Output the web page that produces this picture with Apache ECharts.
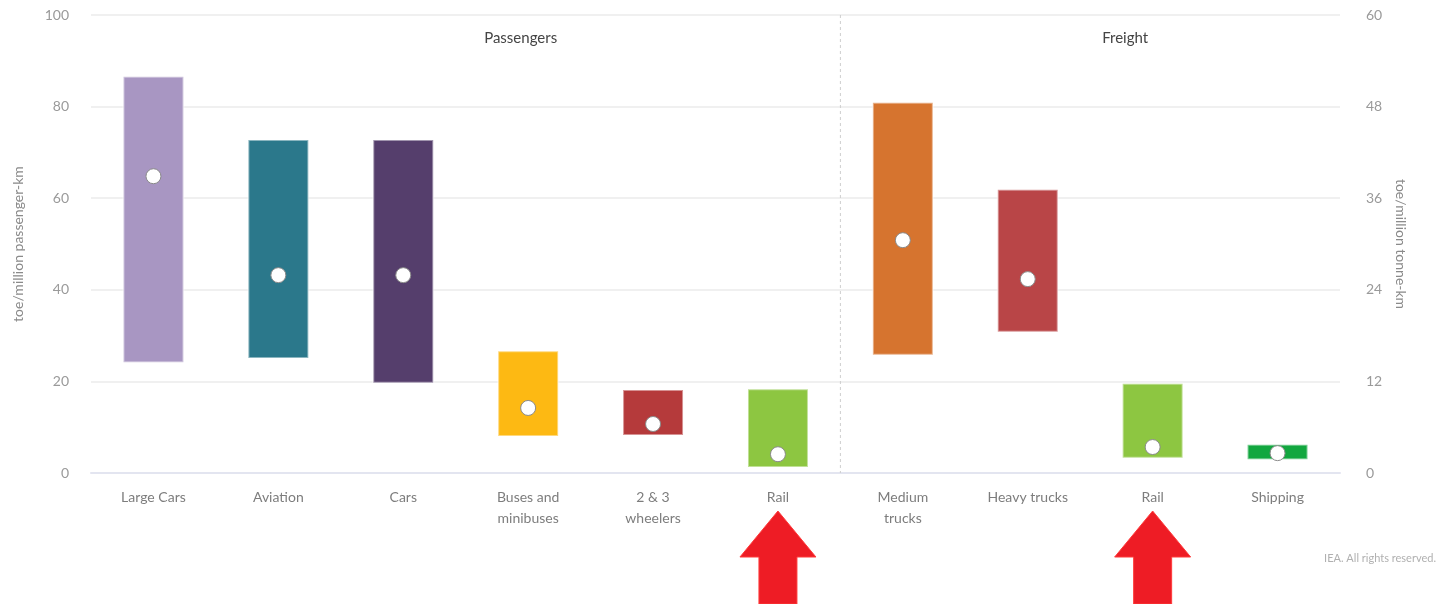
<!DOCTYPE html>
<html><head><meta charset="utf-8">
<script src="https://cdn.jsdelivr.net/npm/echarts@6/dist/echarts.min.js"></script>
<style>html,body{margin:0;padding:0;background:#fff}#c{width:1444px;height:604px}</style>
</head><body><div id="c"></div>
<script>
const categories = ['Large Cars','Aviation','Cars','Buses and\nminibuses','2 & 3\nwheelers','Rail','Medium\ntrucks','Heavy trucks','Rail','Shipping'];
const passengerLow  = [24.2, 25.1, 19.7, 8.1, 8.3, 1.3];
const passengerHigh = [86.5, 72.7, 72.7, 26.6, 18.1, 18.3];
const passengerMid  = [64.8, 43.2, 43.2, 14.2, 10.7, 4.1];
const freightLow  = [15.5, 18.5, 2.0, 1.8];
const freightHigh = [48.5, 37.1, 11.7, 3.7];
const freightMid  = [30.5, 25.4, 3.4, 2.6];
const leftTicks = {min: 0, max: 100, interval: 20};
const rightTicks = {min: 0, max: 60, interval: 12};
const colors = ['#a896c2','#2b788b','#553e6c','#fdb913','#b53a3b','#8dc641','#d6742f','#b94547','#8dc641','#12a73f'];

const nP = passengerLow.length;
const passData = passengerLow.map((v,i)=>[i, v, passengerHigh[i]]);
const freightData = freightLow.map((v,i)=>[i+nP, v, freightHigh[i]]);
const passDots = passengerMid.map((v,i)=>[i, v]);
const freightDots = freightMid.map((v,i)=>[i+nP, v]);

function renderRange(params, api){
  const x = api.value(0);
  const top = api.coord([x, api.value(2)]);
  const bot = api.coord([x, api.value(1)]);
  const w = api.size([1,0])[0]*0.48;
  return {type:'rect', shape:{x: top[0]-w/2, y: top[1], width: w, height: bot[1]-top[1]},
    style:{fill: colors[x], stroke:'rgba(255,255,255,0.45)', lineWidth:2}};
}

const chart = echarts.init(document.getElementById('c'));
const font = 'Lato, "Open Sans", sans-serif';
chart.setOption({
  animation:false,
  textStyle:{fontFamily:font},
  grid:{left:91, right:104, top:15, bottom:131},
  xAxis:{type:'category', data:categories, boundaryGap:true,
    axisLine:{lineStyle:{color:'#e3e5f0', width:2}}, axisTick:{show:false},
    axisLabel:{color:'#7d7d7d', fontSize:14, margin:14, lineHeight:21, fontFamily:font, interval:0},
    splitLine:{show:false}},
  yAxis:[
    {type:'value', min:leftTicks.min, max:leftTicks.max, interval:leftTicks.interval,
     name:'toe/million passenger-km', nameLocation:'middle', nameGap:66,
     nameTextStyle:{color:'#8a8a8a', fontSize:14, fontFamily:font},
     axisLine:{show:false}, axisTick:{show:false},
     axisLabel:{color:'#9a9a9a', fontSize:14, margin:22, fontFamily:font},
     splitLine:{lineStyle:{color:'#ebebeb', width:1.5}}},
    {type:'value', min:rightTicks.min, max:rightTicks.max, interval:rightTicks.interval, position:'right',
     name:'toe/million tonne-km', nameLocation:'middle', nameGap:54, nameRotate:-90,
     nameTextStyle:{color:'#8a8a8a', fontSize:14, fontFamily:font},
     axisLine:{show:false}, axisTick:{show:false},
     axisLabel:{color:'#9a9a9a', fontSize:14, margin:26, fontFamily:font},
     splitLine:{show:false}}
  ],
  series:[
    {type:'custom', yAxisIndex:0, data:passData, renderItem:renderRange, encode:{x:0, y:[1,2]}, z:2},
    {type:'custom', yAxisIndex:1, data:freightData, renderItem:renderRange, encode:{x:0, y:[1,2]}, z:2},
    {type:'scatter', yAxisIndex:0, data:passDots, symbolSize:15, z:3,
     itemStyle:{color:'#fff', borderColor:'#8a8a8a', borderWidth:1, opacity:1}},
    {type:'scatter', yAxisIndex:1, data:freightDots, symbolSize:15, z:3,
     itemStyle:{color:'#fff', borderColor:'#8a8a8a', borderWidth:1, opacity:1}}
  ]
});

const pxA = chart.convertToPixel({xAxisIndex:0}, 0);
const pxB = chart.convertToPixel({xAxisIndex:0}, nP-1);
const pxC = chart.convertToPixel({xAxisIndex:0}, nP);
const step = (pxB-pxA)/(nP-1);
const divX = (pxB+pxC)/2;
const yTop = chart.convertToPixel({yAxisIndex:0}, leftTicks.max);
const yBot = chart.convertToPixel({yAxisIndex:0}, leftTicks.min);
function arrow(cx){
  return {type:'polygon', z:10, shape:{points:[[cx,511],[cx+38,557],[cx+19,557],[cx+19,604],[cx-19,604],[cx-19,557],[cx-38,557]]},
    style:{fill:'#ee1c25', stroke:'#ff3b3b', lineWidth:1}};
}
chart.setOption({graphic:[
  {type:'line', z:1, shape:{x1:divX, y1:yTop, x2:divX, y2:yBot}, style:{stroke:'#cfcfcf', lineWidth:1, lineDash:[3,3]}},
  {type:'text', x:pxA+step*2.94, y:38, style:{text:'Passengers', fill:'#444', font:'15px '+font, textAlign:'center', textVerticalAlign:'middle'}},
  {type:'text', x:pxC+step*1.78, y:38, style:{text:'Freight', fill:'#444', font:'15px '+font, textAlign:'center', textVerticalAlign:'middle'}},
  arrow(pxB),
  arrow(chart.convertToPixel({xAxisIndex:0}, 8)),
  {type:'text', right:8, y:558, style:{text:'IEA. All rights reserved.', fill:'#b0b0b0', font:'11px '+font, textVerticalAlign:'middle'}}
]});
</script></body></html>
